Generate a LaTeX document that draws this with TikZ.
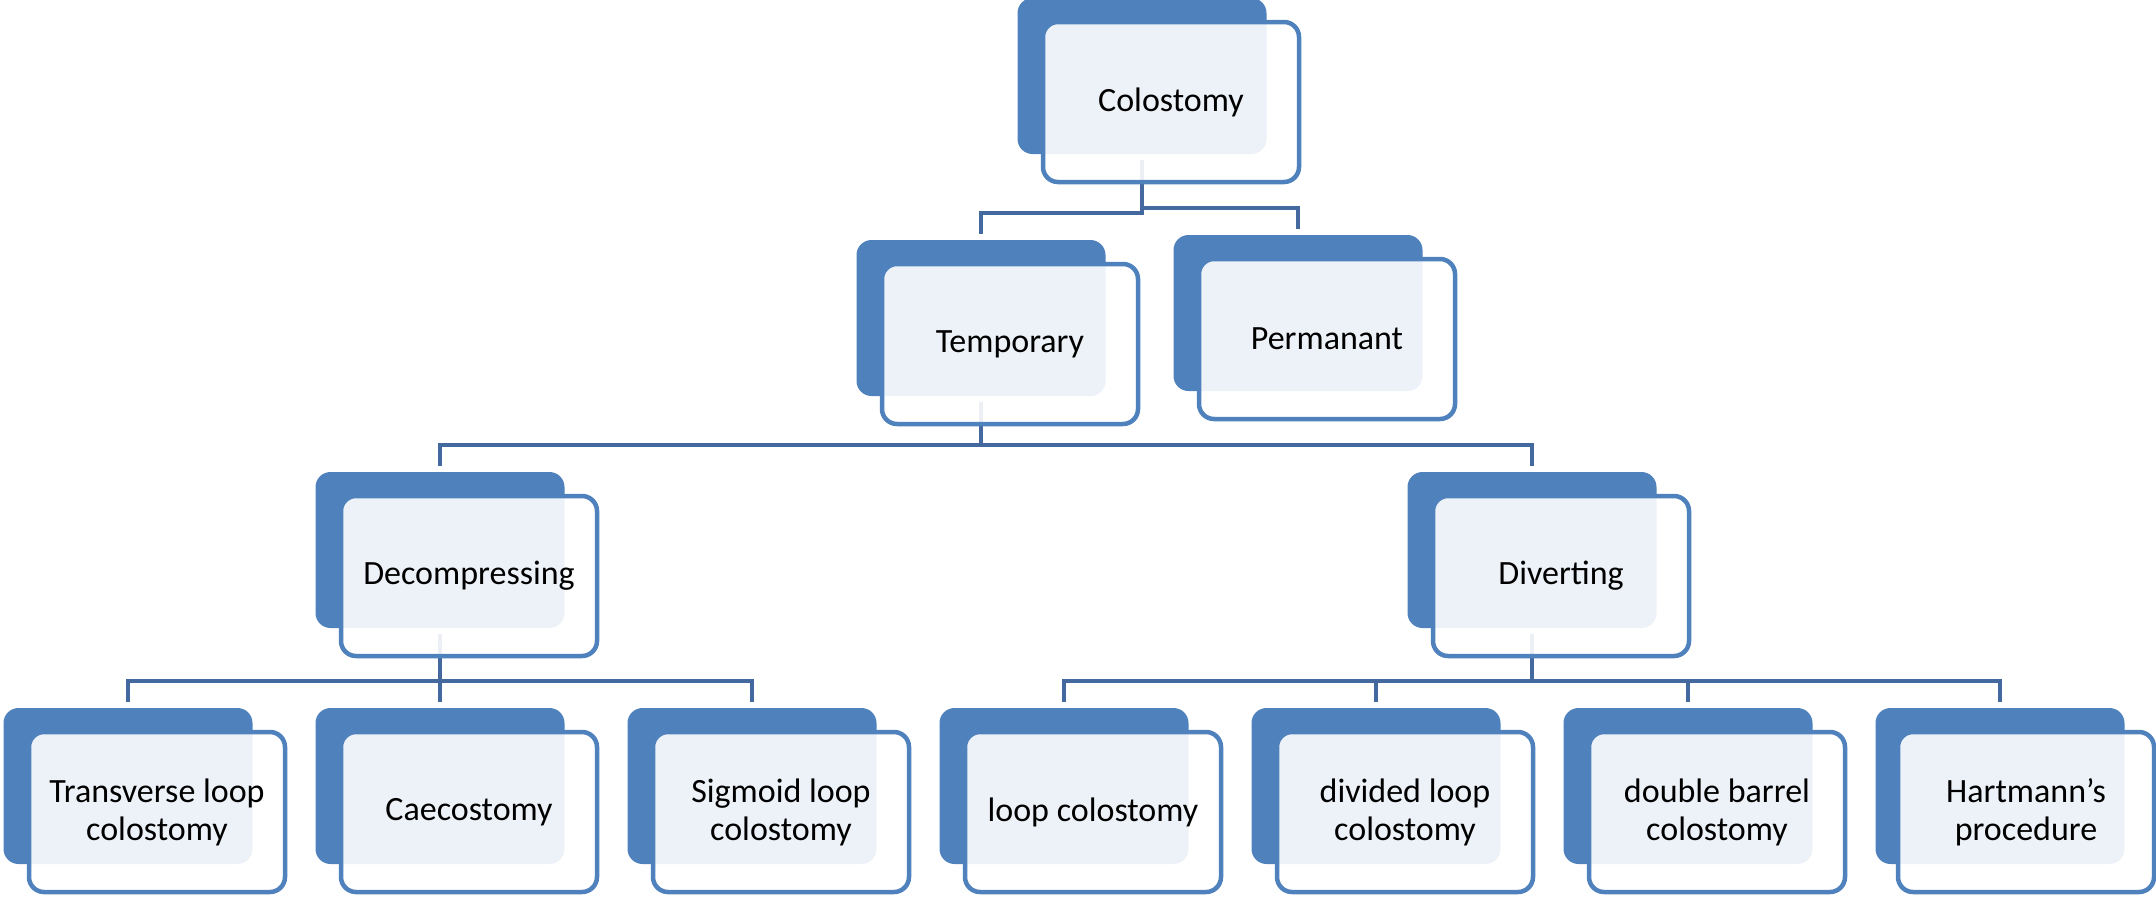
\documentclass[tikz,border=0pt]{standalone}
\usepackage{fontspec}
\setmainfont{Carlito}
\usepackage{tikz}
\usetikzlibrary{positioning,backgrounds,calc}
\definecolor{boxblue}{HTML}{4F81BD}
\definecolor{lineblue}{HTML}{44699E}

\begin{document}
\begin{tikzpicture}[x=1pt,y=-1pt,
  back/.style={fill=boxblue, rounded corners=15pt, minimum width=249pt, minimum height=156pt, inner sep=0pt},
  front/.style={draw=boxblue, line width=4.5pt, fill=white, fill opacity=0.9, text opacity=1, rounded corners=15pt, minimum width=256pt, minimum height=160pt, inner sep=0pt, align=center, font=\fontsize{34}{38}\selectfont},
  conn/.style={draw=lineblue, line width=4.5pt, shorten <=6pt, shorten >=6pt}]

\useasboundingbox (0,0) rectangle (2156,898);

% top
\node[back] (colb) at (1142,76) { };
\node[front] (col) at ([shift={(29,26)}]colb.center) {Colostomy};

% second row
\node[back] (tmpb) at (981,318) { };
\node[front] (tmp) at ([shift={(29,26)}]tmpb.center) {Temporary};
\node[back] (perb) at (1298,313) { };
\node[front] (per) at ([shift={(29,26)}]perb.center) {Permanant};

% third row
\node[back] (decb) at (440,550) { };
\node[front] (dec) at ([shift={(29,26)}]decb.center) {Decompressing};
\node[back] (divb) at (1532,550) { };
\node[front] (div) at ([shift={(29,26)}]divb.center) {Diverting};

% bottom row
\node[back] (trnb) at (128,786) { };
\node[front] (trn) at ([shift={(29,26)}]trnb.center) {Transverse loop\\colostomy};
\node[back] (caeb) at (440,786) { };
\node[front] (cae) at ([shift={(29,26)}]caeb.center) {Caecostomy};
\node[back] (sigb) at (752,786) { };
\node[front] (sig) at ([shift={(29,26)}]sigb.center) {Sigmoid loop\\colostomy};
\node[back] (lopb) at (1064,786) { };
\node[front] (lop) at ([shift={(29,26)}]lopb.center) {loop colostomy};
\node[back] (dvlb) at (1376,786) { };
\node[front] (dvl) at ([shift={(29,26)}]dvlb.center) {divided loop\\colostomy};
\node[back] (dblb) at (1688,786) { };
\node[front] (dbl) at ([shift={(29,26)}]dblb.center) {double barrel\\colostomy};
\node[back] (harb) at (2000,786) { };
\node[front] (har) at ([shift={(26,26)}]harb.center) {Hartmann’s\\procedure};

\begin{scope}[on background layer]
\draw[conn] (colb.south) |- ([yshift=27pt]tmpb.north) -| (tmpb.north);
\draw[conn] (colb.south) |- ([yshift=27pt]perb.north) -| (perb.north);

\draw[conn] (tmpb.south) |- ([yshift=27pt]decb.north) -| (decb.north);
\draw[conn] (tmpb.south) |- ([yshift=27pt]divb.north) -| (divb.north);

\draw[conn] (decb.south) |- ([yshift=27pt]trnb.north) -| (trnb.north);
\draw[conn] (decb.south) |- ([yshift=27pt]caeb.north) -| (caeb.north);
\draw[conn] (decb.south) |- ([yshift=27pt]sigb.north) -| (sigb.north);

\draw[conn] (divb.south) |- ([yshift=27pt]lopb.north) -| (lopb.north);
\draw[conn] (divb.south) |- ([yshift=27pt]dvlb.north) -| (dvlb.north);
\draw[conn] (divb.south) |- ([yshift=27pt]dblb.north) -| (dblb.north);
\draw[conn] (divb.south) |- ([yshift=27pt]harb.north) -| (harb.north);
\end{scope}

\end{tikzpicture}
\end{document}
